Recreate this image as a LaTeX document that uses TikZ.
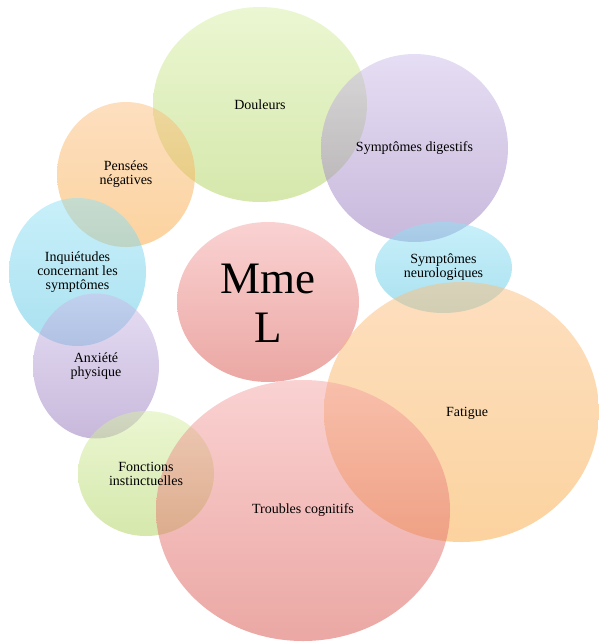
\documentclass[tikz,border=0pt]{standalone}
\usepackage{fontspec}
\setmainfont{Liberation Serif}
\usetikzlibrary{shapes.geometric}
\definecolor{gT}{RGB}{215,239,165}\definecolor{gB}{RGB}{173,209,89}
\definecolor{oT}{RGB}{251,191,127}\definecolor{oB}{RGB}{249,167,63}
\definecolor{cT}{RGB}{145,225,245}\definecolor{cB}{RGB}{85,195,225}
\definecolor{pT}{RGB}{205,189,233}\definecolor{pB}{RGB}{145,115,185}
\definecolor{rT}{RGB}{245,165,165}\definecolor{rB}{RGB}{215,80,72}
\tikzset{
  bub/.style={ellipse, inner sep=0pt, draw=none, fill opacity=0.5},
  green/.style={bub, top color=gT, bottom color=gB},
  orange/.style={bub, top color=oT, bottom color=oB},
  cyan/.style={bub, top color=cT, bottom color=cB},
  purple/.style={bub, top color=pT, bottom color=pB},
  red/.style={bub, top color=rT, bottom color=rB},
  lab/.style={align=center, font=\fontsize{14}{14}\selectfont, text=black, inner sep=0pt}
}
\begin{document}
\begin{tikzpicture}[x=1pt,y=-1pt]
\useasboundingbox (0,0) rectangle (599,642);
\node[green,  minimum width=214pt, minimum height=195pt] (dou) at (260,104.5) {};
\node[purple, minimum width=187pt, minimum height=188pt] (dig) at (414.5,148) {};
\node[orange, minimum width=138pt, minimum height=145pt] (pen) at (126,174.5) {};
\node[cyan,   minimum width=137pt, minimum height=148pt] (inq) at (77.5,272) {};
\node[red,    minimum width=182pt, minimum height=160pt] (mme) at (268,302) {};
\node[cyan,   minimum width=137pt, minimum height=91pt]  (neu) at (443.5,267.5) {};
\node[purple, minimum width=126pt, minimum height=145pt] (anx) at (96,366) {};
\node[orange, minimum width=275pt, minimum height=260pt] (fat) at (461.5,412) {};
\node[green,  minimum width=136pt, minimum height=125pt] (fon) at (146,473.5) {};
\node[red,    minimum width=294pt, minimum height=261pt] (tro) at (303,510.5) {};
\node[lab] (tdou) at (dou.center) {Douleurs};
\node[lab] (tdig) at (dig.center) {Symptômes digestifs};
\node[lab] (tpen) at (pen.center) {Pensées\\négatives};
\node[lab] (tinq) at (inq.center) {Inquiétudes\\concernant les\\symptômes};
\node[lab] (tneu) at (neu.center) {Symptômes\\neurologiques};
\node[lab] (tanx) at (anx.center) {Anxiété\\physique};
\node[lab] (tfat) at (467,413) {Fatigue};
\node[lab] (tfon) at (fon.center) {Fonctions\\instinctuelles};
\node[lab] (ttro) at (tro.center) {Troubles cognitifs};
\node[align=center, inner sep=0pt, font=\fontsize{45}{49}\selectfont] (tmme) at (268,303) {Mme\\L};
\end{tikzpicture}
\end{document}
